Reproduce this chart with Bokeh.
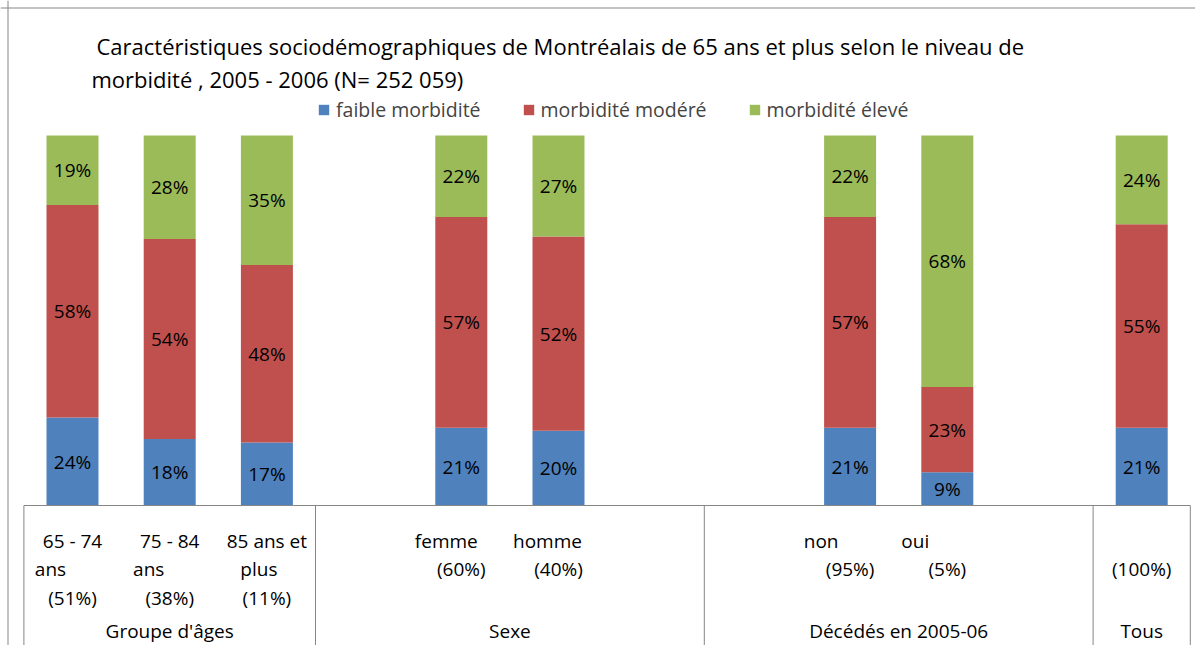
from bokeh.plotting import figure
from bokeh.models import Range1d, Span, Legend, LegendItem, ColumnDataSource, Label
from bokeh.embed import file_html
from bokeh.resources import INLINE
from bokeh.core.properties import value

# ---------------- data ----------------
slots = [0, 1, 2, 4, 5, 8, 9, 11]
label_line1 = ["65 - 74", "75 - 84", "85 ans et", "femme", "homme", "non", "oui", ""]
label_line2 = ["ans", "ans", "plus", "(60%)", "(40%)", "(95%)", "(5%)", "(100%)"]
label_line3 = ["(51%)", "(38%)", "(11%)", "", "", "", "", ""]
groups = ["Groupe d'âges", "Sexe", "Décédés en 2005-06", "Tous"]
group_bounds = [-0.5, 2.5, 6.5, 10.5, 11.5]

faible = [24, 18, 17, 21, 20, 21, 9, 21]
modere = [58, 54, 48, 57, 52, 57, 23, 55]
eleve = [19, 28, 35, 22, 27, 22, 68, 24]
series_names = ["faible morbidité", "morbidité modéré", "morbidité élevé"]
colors = ["#4F81BD", "#C0504D", "#9BBB59"]

title1 = "Caractéristiques sociodémographiques de Montréalais de 65 ans et plus selon le niveau de"
title2 = "morbidité , 2005 - 2006 (N= 252 059)"

# ---------------- style / layout ----------------
FONT_NAME = "Open Sans"
FONT = value(FONT_NAME)
W, H = 1195, 645
SLOT_PX = 97.2      # pixels per category slot
X0_PX = 72          # pixel of slot 0
Y0_PX = 505         # pixel of 0 %
PCT_PX = 3.7        # pixels per percent


def xd(px):
    return (px - X0_PX) / SLOT_PX


def yd(py):
    return (Y0_PX - py) / PCT_PX


line1_dx = [0, 0, 0, -15, -11, -29, -32, 0]
line2_dx = [-22, -21, -8, 0, 0, 0, 0, 0]
row_y = [yd(540), yd(568), yd(597)]
group_y = yd(630)
grey = "#868686"
lab_size = "19px"

# stacked shares normalised to 100
tot = [a + b + c for a, b, c in zip(faible, modere, eleve)]
f_n = [a / t * 100 for a, t in zip(faible, tot)]
m_n = [b / t * 100 for b, t in zip(modere, tot)]
e_n = [c / t * 100 for c, t in zip(eleve, tot)]

src = ColumnDataSource(dict(x=slots, f=f_n, m=m_n, e=e_n))

p = figure(width=W, height=H, output_backend="svg", toolbar_location=None,
           x_axis_type=None, y_axis_type=None, min_border=0,
           x_range=Range1d(xd(0), xd(W)), y_range=Range1d(yd(H), yd(0)))
p.grid.visible = False
p.outline_line_color = None
p.background_fill_color = "white"
p.border_fill_color = "white"

rs = p.vbar_stack(["f", "m", "e"], x="x", width=52 / SLOT_PX, source=src,
                  color=colors, line_color=None)

# value labels
lx, ly, lt = [], [], []
for i, s in enumerate(slots):
    base = 0
    for arr, lab in ((f_n, faible), (m_n, modere), (e_n, eleve)):
        lx.append(s)
        ly.append(base + arr[i] / 2)
        lt.append(f"{lab[i]}%")
        base += arr[i]
p.text(x=lx, y=ly, text=lt, text_align="center", text_baseline="middle",
       text_font=FONT, text_font_size=lab_size, text_color="black")

# category axis (table-like)
p.segment(x0=[group_bounds[0]], y0=[0], x1=[group_bounds[-1]], y1=[0],
          line_color=grey, line_width=1)
p.segment(x0=group_bounds, y0=[0] * len(group_bounds), x1=group_bounds,
          y1=[yd(H)] * len(group_bounds), line_color=grey, line_width=1)

for txt, dx, yy in ((label_line1, line1_dx, row_y[0]),
                    (label_line2, line2_dx, row_y[1]),
                    (label_line3, [0] * 8, row_y[2])):
    p.text(x=slots, y=[yy] * len(slots), text=txt, x_offset=dx,
           text_align="center", text_baseline="middle",
           text_font=FONT, text_font_size=lab_size, text_color="black")

gx = [(a + b) / 2 for a, b in zip(group_bounds[:-1], group_bounds[1:])]
p.text(x=gx, y=[group_y] * len(gx), text=groups, text_align="center",
       text_baseline="middle", text_font=FONT, text_font_size=lab_size,
       text_color="black")

# title
p.add_layout(Label(x=96, y=H - 45, x_units="screen", y_units="screen",
                   text=title1, text_font=FONT_NAME, text_font_size="22px",
                   text_baseline="middle", text_color="black"))
p.add_layout(Label(x=91, y=H - 78, x_units="screen", y_units="screen",
                   text=title2, text_font=FONT_NAME, text_font_size="22px",
                   text_baseline="middle", text_color="black"))

# legend
legend = Legend(items=[LegendItem(label=n, renderers=[r]) for n, r in zip(series_names, rs)],
                orientation="horizontal", location=(317, 522),
                glyph_width=13, glyph_height=13, label_standoff=6, spacing=41,
                padding=0, margin=0, border_line_color=None,
                background_fill_alpha=0, label_text_font=FONT_NAME,
                label_text_font_size="19.5px", label_height=20)
p.add_layout(legend)

# chart border (left, top)
p.add_layout(Span(location=xd(7.5), dimension="height", line_color=grey, line_width=1))
p.add_layout(Span(location=yd(7.5), dimension="width", line_color=grey, line_width=1))

open("out.html", "w").write(file_html(p, INLINE))
